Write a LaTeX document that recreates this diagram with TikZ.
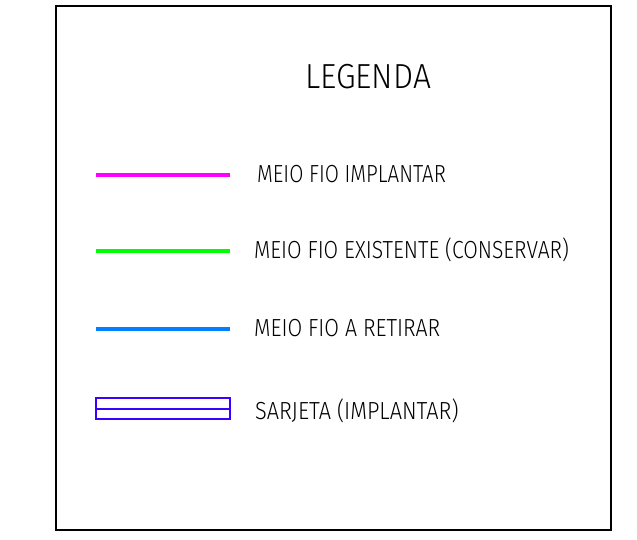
\documentclass[tikz,border=0pt]{standalone}
\usepackage{fontspec}
\setmainfont{Fira Sans}[UprightFont=* Light]
\definecolor{cmag}{RGB}{255,0,255}
\definecolor{cgreen}{RGB}{0,255,0}
\definecolor{cblue}{RGB}{0,128,255}
\definecolor{csarj}{RGB}{60,0,255}
\begin{document}
\begin{tikzpicture}[x=1pt,y=1pt,
  legline/.style={line width=3.4pt},
  lbl/.style={anchor=west,inner sep=0pt,font=\fontsize{24.7}{26}\selectfont},
  ttl/.style={anchor=center,inner sep=0pt,font=\fontsize{34.8}{36}\selectfont}]
\useasboundingbox (0,0) rectangle (637,540);
\draw[line width=2pt] (56,534) rectangle (611,10);
\node[ttl] (title) at (368,463) {\scalebox{0.912}[1]{LEGENDA}};
% magenta
\coordinate (m1) at (96,365); \coordinate (m2) at (230,365);
\draw[legline,cmag] (m1) -- (m2);
\node[lbl] (t1) at (257,365.5) {\scalebox{0.83}[1]{MEIO FIO IMPLANTAR}};
% green
\coordinate (g1) at (96,289); \coordinate (g2) at (230,289);
\draw[legline,cgreen] (g1) -- (g2);
\node[lbl] (t2) at (254,290.5) {\scalebox{0.854}[1]{MEIO FIO EXISTENTE (CONSERVAR)}};
% blue
\coordinate (b1) at (96,211); \coordinate (b2) at (230,211);
\draw[legline,cblue] (b1) -- (b2);
\node[lbl] (t3) at (254,212) {\scalebox{0.8625}[1]{MEIO FIO A RETIRAR}};
% sarjeta
\coordinate (s1) at (96,121); \coordinate (s2) at (230,142);
\draw[line width=1.6pt,csarj] (s1) rectangle (s2);
\draw[line width=1.6pt,csarj] (96,131) -- (230,131);
\node[lbl] (t4) at (255,129.5) {\scalebox{0.88}[1]{SARJETA (IMPLANTAR)}};
\end{tikzpicture}
\end{document}
